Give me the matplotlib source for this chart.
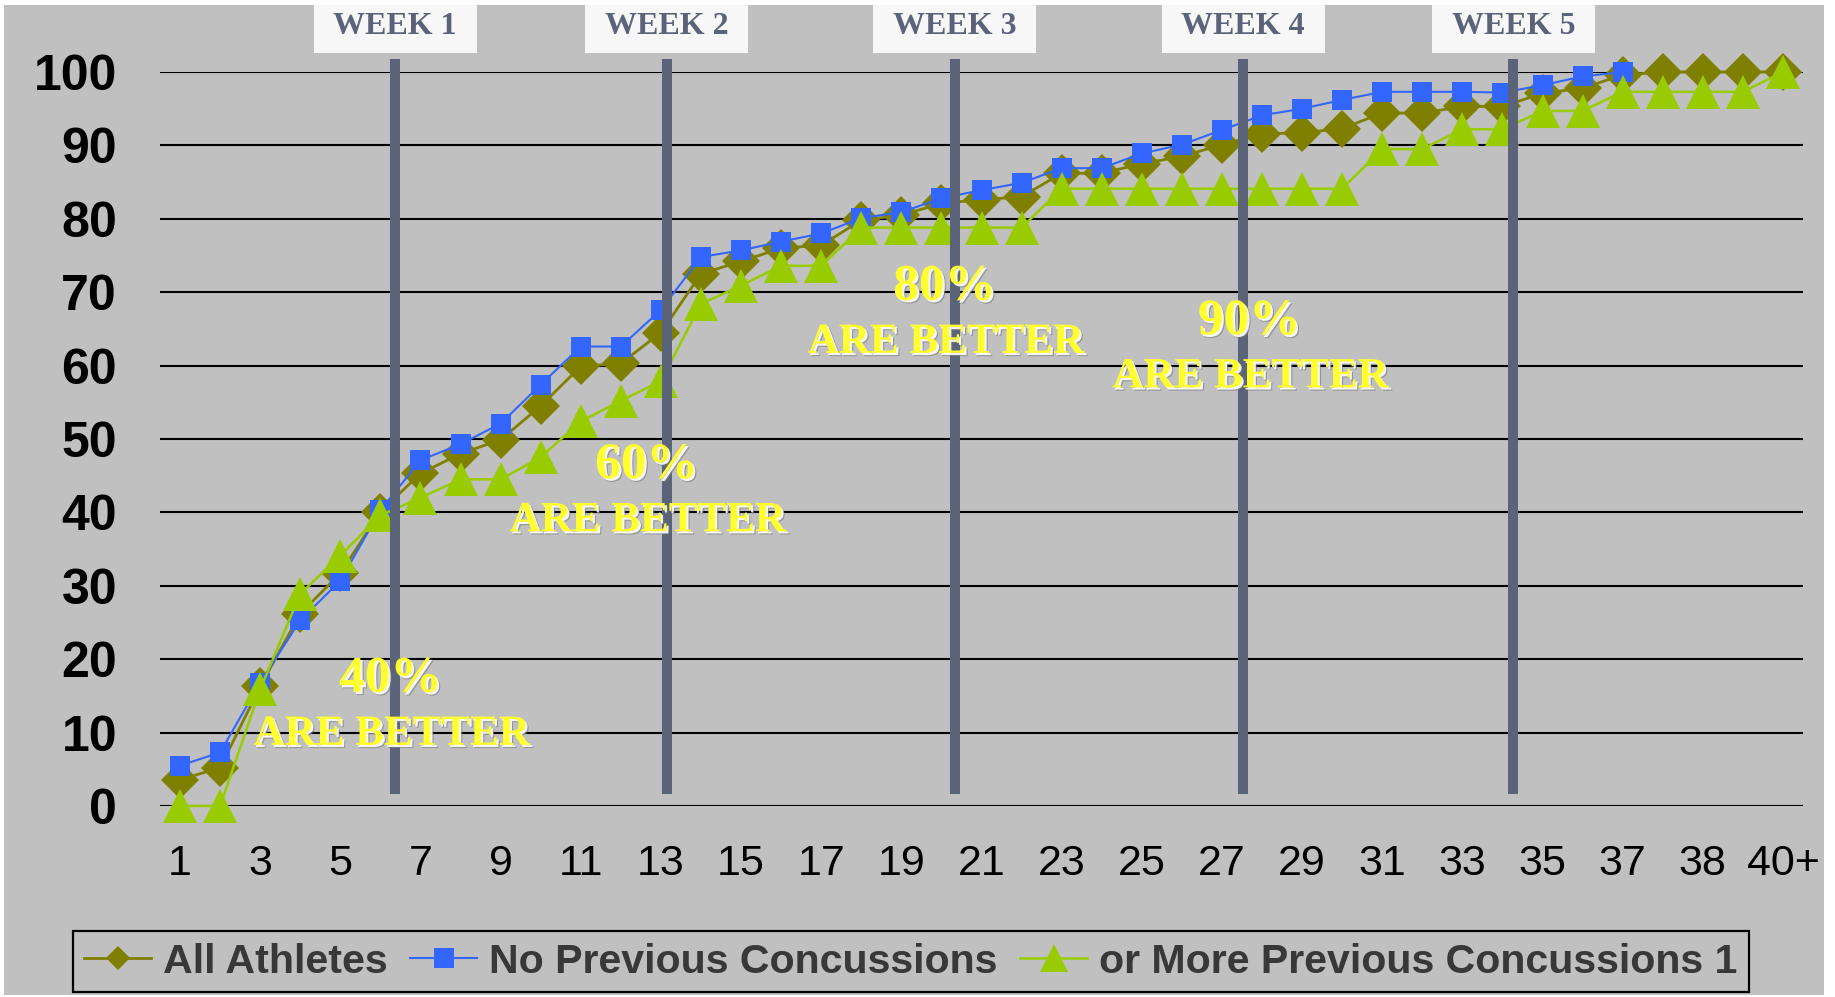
import numpy as np
import matplotlib
matplotlib.use("Agg")
import matplotlib.pyplot as plt
from matplotlib.lines import Line2D
from matplotlib.patches import Rectangle
import matplotlib.patheffects as pe

# x categories (days since injury); only every other label is shown
day_labels = [str(d) for d in range(1, 38)] + ["", "38", "", "40+"]

# cumulative % of athletes who recovered
all_athletes = [3.6, 5.2, 16.3, 26.2, 31.7, 40.1, 45.3, 48.0, 49.9, 54.5,
                59.9, 60.3, 64.5, 72.5, 74.2, 76.0, 76.4, 79.8, 80.5, 82.1,
                82.6, 83.0, 86.2, 86.2, 87.5, 88.5, 90.1, 91.6, 91.7, 92.3,
                94.4, 94.4, 95.3, 95.3, 97.1, 97.8, 99.6, 100, 100, 100, 100]
no_previous = [5.5, 7.3, 16.8, 25.3, 30.7, 40.3, 47.1, 49.3, 52.1, 57.4,
               62.6, 62.6, 67.6, 74.8, 75.7, 76.9, 78.0, 80.1, 80.9, 82.8,
               83.9, 84.9, 86.9, 86.9, 88.9, 90.1, 92.1, 94.1, 95.0, 96.2,
               97.3, 97.3, 97.3, 97.2, 98.2, 99.4, 100,
               np.nan, np.nan, np.nan, np.nan]
one_or_more = [0, 0, 15.9, 28.9, 34.1, 39.6, 42.0, 44.5, 44.5, 47.5,
               52.4, 55.2, 57.9, 68.4, 70.9, 73.6, 73.6, 78.8, 78.8, 78.8,
               78.8, 78.8, 84.1, 84.1, 84.1, 84.1, 84.1, 84.1, 84.1, 84.1,
               89.5, 89.5, 92.2, 92.2, 94.7, 94.7, 97.3, 97.3, 97.3, 97.3, 100]

series_names = ["All Athletes", "No Previous Concussions",
                "or More Previous Concussions 1"]

week_names = ["WEEK 1", "WEEK 2", "WEEK 3", "WEEK 4", "WEEK 5"]
week_x = [5.37, 12.15, 19.33, 26.53, 33.27]

notes = ["40%", "60%", "80%", "90%"]
note_x = [5.25, 11.64, 19.08, 26.68]
note_y = [17.2, 46.3, 70.6, 65.9]

W, H = 1835, 997
fig = plt.figure(figsize=(W / 100, H / 100), dpi=100)
fig.patch.set_facecolor("white")
fig.add_artist(Rectangle((4 / W, 2 / H), 1820 / W, 990 / H,
                         transform=fig.transFigure, fc="#c0c0c0",
                         ec="none", zorder=-10))

ax = fig.add_axes([160 / W, 191 / H, 1643 / W, 734 / H])
ax.patch.set_visible(False)
for s in ax.spines.values():
    s.set_visible(False)

x = np.arange(len(day_labels))
ax.plot(x, all_athletes, color="#808000", lw=2.0, marker="D", ms=19,
        mew=0, zorder=3, clip_on=False)
ax.plot(x, no_previous, color="#3366ff", lw=1.5, marker="s", ms=14.5,
        mew=0, zorder=3, clip_on=False)
ax.plot(x, one_or_more, color="#99cc00", lw=1.8, marker="^", ms=25,
        mew=0, zorder=3, clip_on=False)

ax.set_xlim(-0.5, len(day_labels) - 0.5)
ax.set_ylim(0, 100)
ax.set_yticks(range(0, 101, 10))
ax.set_xticks(x[::2])
ax.set_xticklabels(day_labels[::2], fontsize=31, family="Liberation Sans")
ax.set_yticklabels([str(v) for v in range(0, 101, 10)], fontsize=36,
                   fontweight="bold", family="Liberation Sans")
ax.tick_params(axis="x", length=0, pad=27)
ax.tick_params(axis="y", length=0, pad=31)
ax.grid(axis="y", color="black", lw=1.5)
ax.grid(axis="x", visible=False)

# week separators and their labels
ax.vlines(week_x, 1.6, 101.8, color="#5b6378", lw=7.2, zorder=4,
          clip_on=False)
px = 1643 / 41.0
for name, wx in zip(week_names, week_x):
    ax.add_patch(Rectangle((wx - 81.5 / px, (806 - 53) / 734), 163 / px,
                           48 / 734, transform=ax.get_xaxis_transform(),
                           fc="#f7f7f7", ec="none", clip_on=False))
    ax.text(wx, (806 - 26) / 734, name, transform=ax.get_xaxis_transform(),
            ha="center", va="center", fontsize=23, fontweight="bold",
            family="Liberation Serif", color="#5b6378")

shadow = [pe.SimplePatchShadow(offset=(2.4, -2.4), shadow_rgbFace="#7a7a7a",
                               alpha=0.6),
          pe.SimplePatchShadow(offset=(1.6, -1.6), shadow_rgbFace="white",
                               alpha=0.9),
          pe.Normal()]
for txt, nx, ny in zip(notes, note_x, note_y):
    ax.text(nx, ny, txt, ha="center", va="center", fontsize=37,
            fontweight="bold", family="Liberation Serif", color="#ffff2e",
            zorder=5, path_effects=shadow)
    ax.text(nx + 0.03, ny - 7.5, "ARE BETTER", ha="center", va="center",
            fontsize=31, fontweight="bold", family="Liberation Serif",
            color="#ffff2e", zorder=5, path_effects=shadow)

handles = [
    Line2D([], [], color="#808000", lw=2.0, marker="D", ms=12.7, mew=0),
    Line2D([], [], color="#3366ff", lw=1.5, marker="s", ms=14.4, mew=0),
    Line2D([], [], color="#99cc00", lw=1.8, marker="^", ms=20, mew=0),
]
leg = fig.legend(handles, series_names, loc="center",
                 bbox_to_anchor=(911 / W, 1 - 961.5 / H), ncol=3,
                 prop={"family": "Liberation Sans", "weight": "bold",
                       "size": 29.6},
                 labelcolor="#383838", handlelength=1.63,
                 handletextpad=0.29, columnspacing=0.55, borderpad=0.27,
                 borderaxespad=0, fancybox=False, facecolor="none",
                 edgecolor="black", framealpha=1)
leg.get_frame().set_linewidth(1.6)

fig.savefig("out.png", dpi=100, facecolor=fig.get_facecolor())
